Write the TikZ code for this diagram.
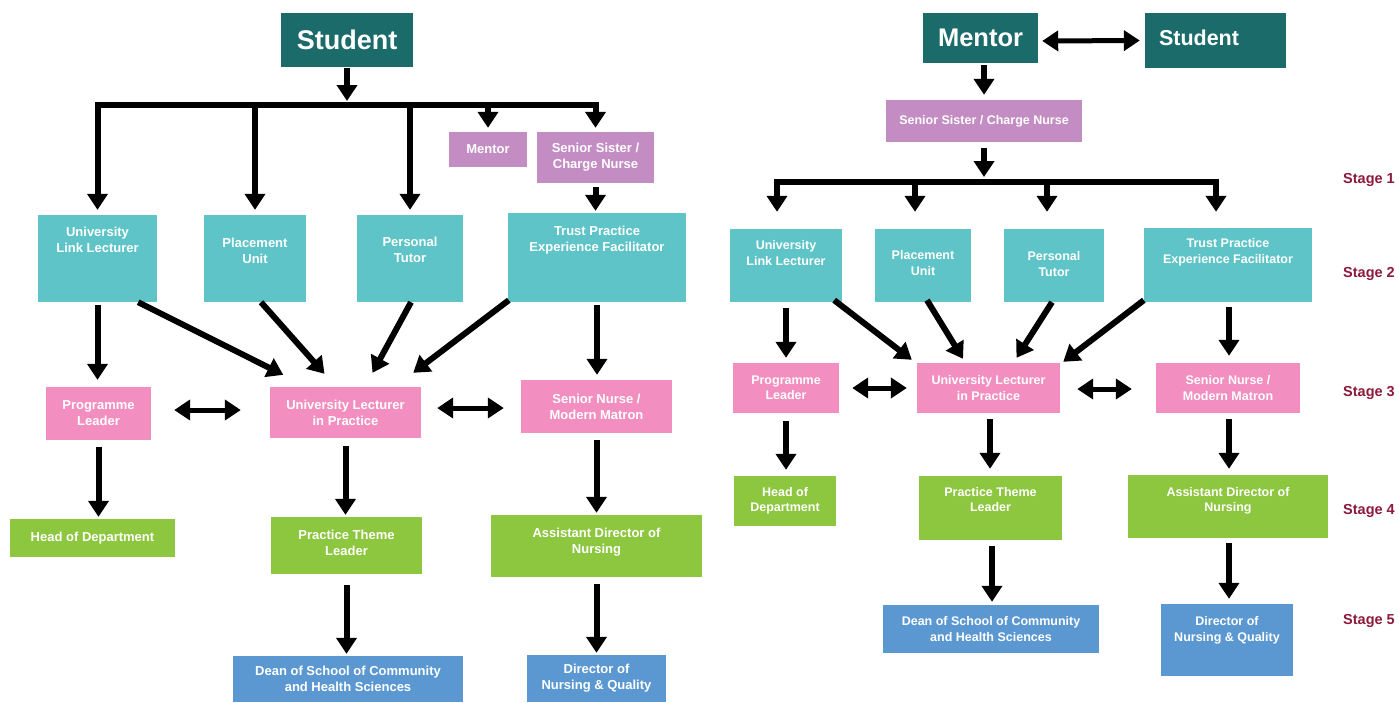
\documentclass[tikz,border=0pt]{standalone}
\usepackage{fontspec}
\setmainfont{Liberation Sans}
\usetikzlibrary{arrows.meta,positioning}

\definecolor{darkteal}{HTML}{1C6B6B}
\definecolor{lightteal}{HTML}{5EC4C8}
\definecolor{mauve}{HTML}{C38DC4}
\definecolor{rose}{HTML}{F28FC0}
\definecolor{leaf}{HTML}{8DC63F}
\definecolor{sky}{HTML}{5B98D2}
\definecolor{stagered}{HTML}{8C1A3C}

\begin{document}
\begin{tikzpicture}[
    x=1pt, y=-1pt,
    box/.style={rectangle, inner sep=0pt, text=white, align=center,
                font=\fontsize{13}{16}\selectfont\bfseries},
    rbox/.style={box, font=\fontsize{12.5}{15.5}\selectfont\bfseries},
    dteal/.style={fill=darkteal},
    lteal/.style={fill=lightteal},
    purp/.style={fill=mauve},
    pinkbox/.style={fill=rose},
    greenbox/.style={fill=leaf},
    bluebox/.style={fill=sky},
    sz/.style 2 args={minimum width=#1, minimum height=#2},
    tall/.style 2 args={text height=#1, text depth=#2},
    arr/.style={-{Triangle[length=16pt,width=20pt]}, line width=6pt},
    dbl/.style={{Triangle[length=16pt,width=20pt]}-{Triangle[length=16pt,width=20pt]}, line width=5pt},
    bar/.style={line width=6pt, line cap=rect},
    stage/.style={anchor=west, inner sep=0pt, text=stagered,
                  font=\fontsize{14.5}{17}\selectfont\bfseries}
]

\fill[white] (0,0) rectangle (1399,702);
\useasboundingbox (0,0) rectangle (1399,702);

%% ---------------- left chart ----------------

% Top
\node[box, dteal, sz={132pt}{54pt}, font=\fontsize{27}{30}\selectfont\bfseries] (lstudent) at (347,40) {Student};
\coordinate (lbar) at (347,105);

\node[box, purp, sz={78pt}{35pt}]  (lmentor) at (488,149.5) {Mentor};
\node[box, purp, sz={117pt}{51pt}] (lsscn)   at (595.5,157.5) {Senior Sister /\\Charge Nurse};

% Stage 2 row
\node[box, lteal, sz={119pt}{87pt}, tall={37.5pt}{49.5pt}] (lull)  at (97.5,258.5) {University\\Link Lecturer};
\node[box, lteal, sz={102pt}{87pt}, tall={48.5pt}{38.5pt}] (lpu)   at (255,258.5)  {Placement\\Unit};
\node[box, lteal, sz={106pt}{87pt}, tall={47.5pt}{39.5pt}] (lpt)   at (410,258.5)  {Personal\\Tutor};
\node[box, lteal, sz={178pt}{89pt}, tall={38.5pt}{50.5pt}] (ltpef) at (597,257.5)  {Trust Practice\\Experience Facilitator};

% Stage 3 row
\node[box, pinkbox, sz={105pt}{53pt}] (lpl)   at (98.5,413.5)  {Programme\\Leader};
\node[box, pinkbox, sz={151pt}{51pt}] (lulp)  at (345.5,412.5) {University Lecturer\\in Practice};
\node[box, pinkbox, sz={151pt}{53pt}] (lsnmm) at (596.5,406.5) {Senior Nurse /\\Modern Matron};

% Stage 4 row
\node[box, greenbox, sz={165pt}{38pt}] (lhod) at (92.5,538) {Head of Department};
\node[box, greenbox, sz={151pt}{57pt}, tall={38.5pt}{18.5pt}] (lptl) at (346.5,545.5) {Practice Theme\\Leader};
\node[box, greenbox, sz={211pt}{62pt}, tall={38.5pt}{23.5pt}] (ladn) at (596.5,546) {Assistant Director of\\Nursing};

% Stage 5 row
\node[box, bluebox, sz={230pt}{46pt}] (ldean) at (348,679)    {Dean of School of Community\\and Health Sciences};
\node[box, bluebox, sz={139pt}{47pt}] (ldnq)  at (596.5,678.5) {Director of\\Nursing \& Quality};

% Connectors
\draw[arr, shorten <=1pt, shorten >=4pt] (lstudent) -- (lbar);
\draw[bar] (lull.north |- lbar) -- (lsscn.north |- lbar);
\foreach \n in {lull,lpu,lpt} {
  \draw[arr, shorten >=5pt] (\n.north |- lbar) -- (\n.north);
}
\foreach \n in {lmentor,lsscn} {
  \draw[arr, shorten >=4pt] (\n.north |- lbar) -- (\n.north);
}
\draw[arr, shorten <=4pt, shorten >=2pt] (lsscn.south) -- (lsscn.south |- ltpef.north);

\draw[arr, shorten <=3pt, shorten >=7pt] (lull.south) -- (lull.south |- lpl.north);
\draw[arr] ([xshift=-19pt]lull.south east) -- ([xshift=13.5pt,yshift=12pt]lulp.north west);
\draw[arr] ([xshift=6pt]lpu.south) -- ([xshift=-21pt,yshift=13pt]lulp.north);
\draw[arr] ([xshift=1pt]lpt.south) -- ([xshift=27pt,yshift=14pt]lulp.north);
\draw[arr] ([xshift=1pt,yshift=2pt]ltpef.south west) -- ([xshift=-8pt,yshift=14pt]lulp.north east);
\draw[arr, shorten <=3pt, shorten >=5pt] (ltpef.south) -- (ltpef.south |- lsnmm.north);

\draw[dbl, shorten <=23pt, shorten >=29pt] ([yshift=3.5pt]lpl.east) -- ([yshift=2.5pt]lulp.west);
\draw[dbl, shorten <=16pt, shorten >=17pt] ([yshift=4.5pt]lulp.east) -- ([yshift=-1.5pt]lsnmm.west);

\draw[arr, shorten <=7pt, shorten >=2pt] (lpl.south) -- (lpl.south |- lhod.north);
\draw[arr, shorten <=8pt, shorten >=2pt] (lulp.south) -- (lulp.south |- lptl.north);
\draw[arr, shorten <=7pt, shorten >=2pt] (lsnmm.south) -- (lsnmm.south |- ladn.north);
\draw[arr, shorten <=11pt, shorten >=2pt] (lptl.south) -- (lptl.south |- ldean.north);
\draw[arr, shorten <=7pt, shorten >=2pt] (ladn.south) -- (ladn.south |- ldnq.north);

%% ---------------- right chart ----------------

% Top
\node[box, dteal, sz={115pt}{50pt}, font=\fontsize{25.5}{28}\selectfont\bfseries] (rmentor) at (980.5,38) {Mentor};
\node[box, dteal, sz={141pt}{55pt}, text width=113pt, align=left, tall={32pt}{23pt},
      font=\fontsize{21.5}{24}\selectfont\bfseries] (rstudent) at (1215.5,40.5) {Student};
\node[rbox, purp, sz={196pt}{42pt}] (rsscn) at (984,121) {Senior Sister / Charge Nurse};
\coordinate (rbar) at (984,182);

% Stage 2 row
\node[rbox, lteal, sz={112pt}{73pt}, tall={36pt}{37pt}] (rull)  at (786,265.5)  {University\\Link Lecturer};
\node[rbox, lteal, sz={96pt}{73pt},  tall={46pt}{27pt}] (rpu)   at (923,265.5)  {Placement\\Unit};
\node[rbox, lteal, sz={100pt}{73pt}, tall={47pt}{26pt}] (rpt)   at (1054,265.5) {Personal\\Tutor};
\node[rbox, lteal, sz={168pt}{74pt}, tall={35pt}{39pt}] (rtpef) at (1228,265)   {Trust Practice\\Experience Facilitator};

% Stage 3 row
\node[rbox, pinkbox, sz={106pt}{50pt}] (rpl)   at (786,388)    {Programme\\Leader};
\node[rbox, pinkbox, sz={143pt}{50pt}] (rulp)  at (988.5,388)  {University Lecturer\\in Practice};
\node[rbox, pinkbox, sz={144pt}{50pt}] (rsnmm) at (1228,388)   {Senior Nurse /\\Modern Matron};

% Stage 4 row
\node[rbox, greenbox, sz={102pt}{50pt}] (rhod) at (785,501) {Head of\\Department};
\node[rbox, greenbox, sz={143pt}{64pt}, tall={35.5pt}{28.5pt}] (rptl) at (990.5,508) {Practice Theme\\Leader};
\node[rbox, greenbox, sz={200pt}{63pt}, tall={36.5pt}{26.5pt}] (radn) at (1228,506.5) {Assistant Director of\\Nursing};

% Stage 5 row
\node[rbox, bluebox, sz={216pt}{48pt}] (rdean) at (991,629) {Dean of School of Community\\and Health Sciences};
\node[rbox, bluebox, sz={132pt}{72pt}, tall={37pt}{35pt}] (rdnq) at (1227,640) {Director of\\Nursing \& Quality};

% Stage labels
\node[stage] (st1) at (1343,180) {Stage 1};
\node[stage] (st2) at (1343,274) {Stage 2};
\node[stage] (st3) at (1343,393) {Stage 3};
\node[stage] (st4) at (1343,511) {Stage 4};
\node[stage] (st5) at (1343,621) {Stage 5};

% Connectors
\draw[dbl, shorten <=4pt, shorten >=5pt] ([yshift=-3pt]rmentor.east) -- (rstudent.west);
\draw[arr, shorten <=2pt, shorten >=5pt] (rsscn.north |- rmentor.south) -- (rsscn.north);
\draw[arr, shorten <=6pt, shorten >=5pt] (rsscn.south) -- (rbar);
\draw[bar] ([xshift=-9pt]rull.north |- rbar) -- ([xshift=-12pt]rtpef.north |- rbar);
\draw[arr, shorten >=17pt] ([xshift=-9pt]rull.north |- rbar)  -- ([xshift=-9pt]rull.north);
\draw[arr, shorten >=17pt] ([xshift=-8pt]rpu.north |- rbar)   -- ([xshift=-8pt]rpu.north);
\draw[arr, shorten >=17pt] ([xshift=-7pt]rpt.north |- rbar)   -- ([xshift=-7pt]rpt.north);
\draw[arr, shorten >=16pt] ([xshift=-12pt]rtpef.north |- rbar) -- ([xshift=-12pt]rtpef.north);

\draw[arr, shorten <=6pt, shorten >=5pt] (rull.south) -- (rull.south |- rpl.north);
\draw[arr] ([xshift=-8pt,yshift=2pt]rull.south east) -- ([xshift=-5pt,yshift=3pt]rulp.north west);
\draw[arr] ([xshift=4pt,yshift=2pt]rpu.south) -- ([xshift=-25.5pt,yshift=4pt]rulp.north);
\draw[arr] ([xshift=-2pt]rpt.south) -- ([xshift=28pt,yshift=5pt]rulp.north);
\draw[arr] ([yshift=2pt]rtpef.south west) -- ([xshift=3pt,yshift=1pt]rulp.north east);
\draw[arr, shorten <=5pt, shorten >=7pt] ([xshift=1pt]rtpef.south) -- ([xshift=1pt]rtpef.south |- rsnmm.north);

\draw[dbl, shorten <=13pt, shorten >=10pt] (rpl.east) -- (rulp.west);
\draw[dbl, shorten <=17pt, shorten >=24pt] ([yshift=-1pt]rulp.east) -- ([yshift=-1pt]rsnmm.west);

\draw[arr, shorten <=8pt, shorten >=6pt] (rpl.south) -- (rpl.south |- rhod.north);
\draw[arr, shorten <=6pt, shorten >=7pt] ([xshift=1.5pt]rulp.south) -- ([xshift=1.5pt]rulp.south |- rptl.north);
\draw[arr, shorten <=6pt, shorten >=6pt] ([xshift=1pt]rsnmm.south) -- ([xshift=1pt]rsnmm.south |- radn.north);
\draw[arr, shorten <=6pt, shorten >=3pt] ([xshift=1.5pt]rptl.south) -- ([xshift=1.5pt]rptl.south |- rdean.north);
\draw[arr, shorten <=5pt, shorten >=5pt] ([xshift=1pt]radn.south) -- ([xshift=1pt]radn.south |- rdnq.north);

\end{tikzpicture}
\end{document}
